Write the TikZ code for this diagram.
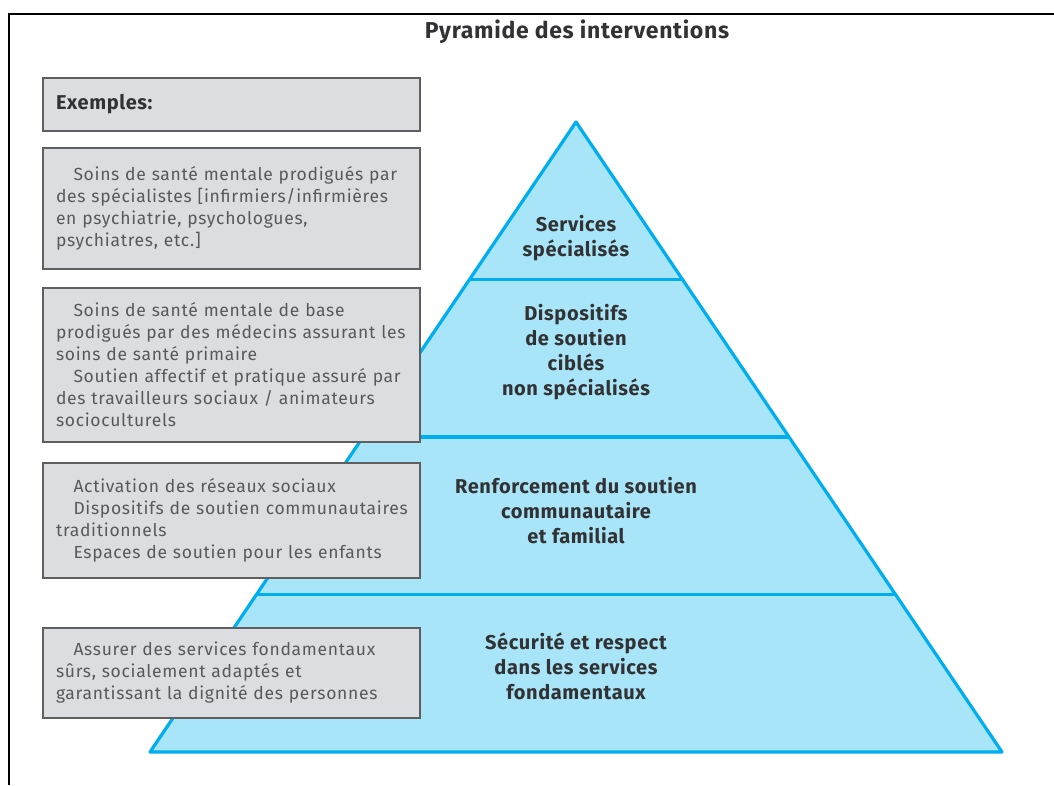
\documentclass[tikz,border=0pt]{standalone}
\usepackage{fontspec}
\setmainfont{Fira Sans}[LetterSpace=3]
\newfontfamily\exfont{Fira Sans}[LetterSpace=4]
\usetikzlibrary{calc}

\definecolor{pyrblue}{RGB}{0,174,239}
\definecolor{pyrfill}{RGB}{168,229,248}
\definecolor{boxfill}{RGB}{220,221,224}
\definecolor{boxline}{RGB}{95,95,95}
\definecolor{boxtext}{RGB}{88,89,91}
\definecolor{leveltext}{RGB}{50,50,52}

\tikzset{
  exbox/.style={draw=boxline, line width=1.6pt, fill=boxfill,
    minimum width=377pt, inner xsep=13pt, text width=351pt, align=left,
    text=boxtext, font=\exfont\fontsize{17.5}{22}\selectfont},
  levellabel/.style={align=center, text=leveltext,
    font=\bfseries\fontsize{20}{25}\selectfont},
  pyrstroke/.style={draw=pyrblue, line width=3.2pt, line join=round}
}

\begin{document}
\begin{tikzpicture}[x=1pt,y=-1pt]
    \useasboundingbox (0,0) rectangle (1054,785);

    % frame
    \draw[line width=2pt] (9,785) -- (9,14) -- (1054,14);
    \node[font=\bfseries\fontsize{23}{28}\selectfont, text=leveltext] (title) at (577,32) {Pyramide des interventions};

    % pyramid
    \coordinate (apex) at (576,122);
    \coordinate (bl) at (150,752);
    \coordinate (br) at (1002,752);
    \filldraw[pyrstroke, fill=pyrfill] (apex) -- (br) -- (bl) -- cycle;
    \foreach \t in {0.25,0.5,0.75}
      \draw[pyrstroke] ($(apex)!\t!(bl)$) -- ($(apex)!\t!(br)$);

    \node[levellabel] (lvl1) at (576,238.5) {Services\\spécialisés};
    \node[levellabel] (lvl2) at (576,352.5) {Dispositifs\\de soutien\\ciblés\\non spécialisés};
    \node[levellabel] (lvl3) at (576,511) {Renforcement du soutien\\communautaire\\et familial};
    \node[levellabel] (lvl4) at (576,666) {Sécurité et respect\\dans les services\\fondamentaux};

    % examples
    \node[exbox, minimum height=53pt, text=leveltext, font=\bfseries\fontsize{20}{24}\selectfont] (exhead) at (231.5,104.5) {Exemples:};
    \node[exbox, minimum height=121pt] (ex1) at (231.5,208.5) {\hspace*{1em}Soins de santé mentale prodigués par\\des spécialistes [infirmiers/infirmières\\en psychiatrie, psychologues,\\psychiatres, etc.]\\[-4pt]};
    \node[exbox, minimum height=154pt] (ex2) at (231.5,365) {\hspace*{1em}Soins de santé mentale de base\\prodigués par des médecins assurant les\\soins de santé primaire\\\hspace*{1em}Soutien affectif et pratique assuré par\\des travailleurs sociaux / animateurs\\socioculturels};
    \node[exbox, minimum height=115pt] (ex3) at (231.5,520.5) {\hspace*{1em}Activation des réseaux sociaux\\\hspace*{1em}Dispositifs de soutien communautaires\\traditionnels\\\hspace*{1em}Espaces de soutien pour les enfants};
    \node[exbox, minimum height=90pt] (ex4) at (231.5,673) {\hspace*{1em}Assurer des services fondamentaux\\sûrs, socialement adaptés et\\garantissant la dignité des personnes};
\end{tikzpicture}
\end{document}
